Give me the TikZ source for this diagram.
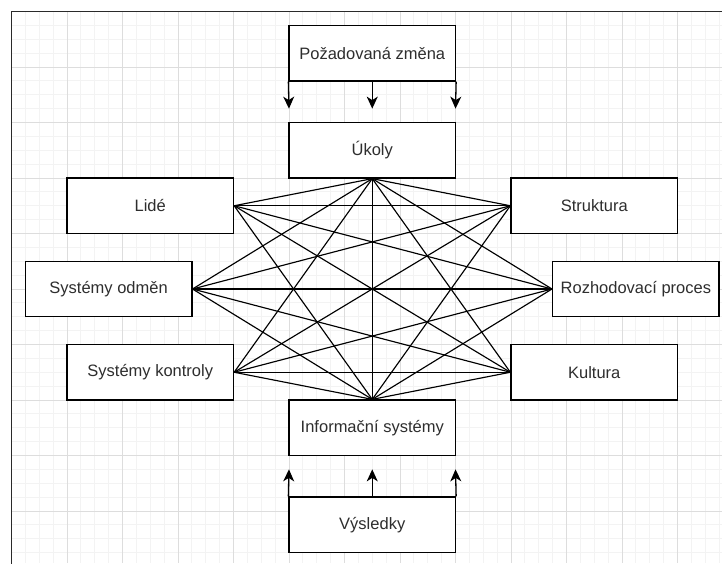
\documentclass[tikz,border=0pt]{standalone}
\usepackage{fontspec}
\setmainfont{Liberation Sans}
\usetikzlibrary{arrows.meta}
\definecolor{gridminor}{HTML}{F3F3F3}
\definecolor{gridmajor}{HTML}{DDDDDD}
\definecolor{framecol}{HTML}{2A2A2A}
\definecolor{labelcol}{HTML}{2E2E2E}
\begin{document}
\begin{tikzpicture}[x=13.875pt,y=-13.875pt,
  box/.style={draw=black, line width=1.3pt, fill=white, rectangle,
    minimum width=166.5pt, minimum height=55.5pt, inner sep=0pt,
    text=labelcol, font=\fontsize{16.5}{19}\selectfont},
  link/.style={line width=1.15pt},
  flow/.style={line width=1.3pt, -{Stealth[length=12pt,width=11pt,inset=3.5pt]}},
  minorgrid/.style={gridminor, line width=1pt},
  majorgrid/.style={gridmajor, line width=1pt}]

% page and background
\useasboundingbox (-0.8288,-0.8288) rectangle (51.207,39.748);
\fill[white] (-0.8288,-0.8288) rectangle (51.207,39.748);

% drawing grid
\foreach \i in {1,...,51} \draw[minorgrid] (\i,0) -- (\i,39.748);
\foreach \j in {1,...,39} \draw[minorgrid] (0,\j) -- (51.207,\j);
\foreach \i in {4,8,...,48} \draw[majorgrid] (\i,0) -- (\i,39.748);
\foreach \j in {4,8,...,36} \draw[majorgrid] (0,\j) -- (51.207,\j);

% canvas frame
\draw[framecol, line width=1.6pt] (0,39.8) -- (0,0) -- (51.3,0);

% boxes
\node[box] (req)   at (26,3)  {Požadovaná změna};
\node[box] (tasks) at (26,10) {Úkoly};
\node[box] (lide)  at (10,14) {Lidé};
\node[box] (strukt) at (42,14) {Struktura};
\node[box] (odmen) at (7,20)  {Systémy odměn};
\node[box] (rozh)  at (45,20) {Rozhodovací proces};
\node[box] (kontr) at (10,26) {Systémy kontroly};
\node[box] (kult)  at (42,26) {Kultura};
\node[box] (info)  at (26,30) {Informační systémy};
\node[box] (vysl)  at (26,37) {Výsledky};

% free ends of the short arrows
\coordinate (d1) at (20,7);
\coordinate (d2) at (26,7);
\coordinate (d3) at (32,7);
\coordinate (u1) at (20,33);
\coordinate (u2) at (26,33);
\coordinate (u3) at (32,33);

\draw[flow] (req.south west) -- (d1);
\draw[flow] (req.south) -- (d2);
\draw[flow] (req.south east) -- (d3);
\draw[flow] (vysl.north west) -- (u1);
\draw[flow] (vysl.north) -- (u2);
\draw[flow] (vysl.north east) -- (u3);

% web of links
\foreach \n in {lide.east, odmen.east, kontr.east, strukt.west, rozh.west, kult.west, info.north}
  \draw[link] (tasks.south) -- (\n);
\foreach \n in {lide.east, odmen.east, kontr.east, strukt.west, rozh.west, kult.west}
  \draw[link] (info.north) -- (\n);
\foreach \a in {lide, odmen, kontr}
  \foreach \b in {strukt, rozh, kult}
    \draw[link] (\a.east) -- (\b.west);
\end{tikzpicture}
\end{document}
